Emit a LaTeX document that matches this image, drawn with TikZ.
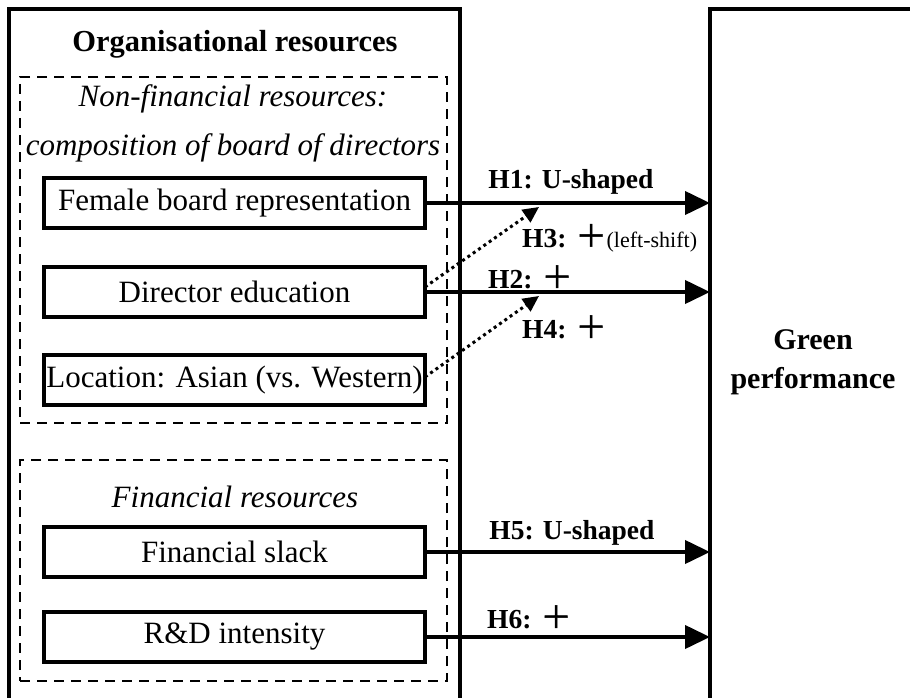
\documentclass[tikz,border=0pt]{standalone}
\usepackage{fontspec}
\setmainfont{Liberation Serif}
\newfontfamily\cjk[FakeBold=1.6]{Noto Sans CJK SC}
\usetikzlibrary{arrows.meta}
\newcommand{\plussign}{{\fontsize{31}{32}\selectfont\cjk\mdseries ＋}}
\begin{document}
\begin{tikzpicture}[x=1pt,y=-1pt,
  frame/.style={draw, line width=3.5pt, inner sep=0pt, outer sep=0pt},
  box/.style={draw, line width=3.5pt, minimum width=381pt, minimum height=50pt, inner sep=0pt, outer sep=0pt, font=\fontsize{31}{37}\selectfont},
  grp/.style={draw, line width=2.4pt, dash pattern=on 10pt off 7pt, inner sep=0pt, outer sep=0pt},
  txt/.style={inner sep=0pt, font=\fontsize{31}{37}\selectfont},
  lbl/.style={inner sep=0pt, font=\fontsize{27.5}{32}\selectfont\bfseries},
  solidarrow/.style={line width=4pt, -{Triangle[length=25pt,width=23pt]}},
  dotarrow/.style={line width=3pt, dash pattern=on 3pt off 3.5pt, -{Triangle[length=16pt,width=15pt]}},
]
\useasboundingbox (0,0) rectangle (910,698);
\clip (0,0) rectangle (910,698);

% outer frames (cut by the picture edge)
\node[frame, minimum width=451pt, minimum height=721pt, anchor=north west] (org) at (9,9) {};
\node[frame, minimum width=240pt, minimum height=721pt, anchor=north west] (gp) at (710,9) {};

% dashed groups
\node[grp, minimum width=427pt, minimum height=346pt, anchor=north west] (nfgrp) at (20,77) {};
\node[grp, minimum width=427pt, minimum height=221pt, anchor=north west] (fgrp) at (20,460) {};

% headings
\node[txt, font=\fontsize{30.5}{37}\selectfont\bfseries] (title) at (235,44) {Organisational resources};
\node[txt, font=\fontsize{31}{49}\selectfont\itshape, align=center] (nftitle) at (233,123) {Non-financial resources:\\composition of board of directors};
\node[txt, font=\fontsize{31}{37}\selectfont\itshape] (ftitle) at (235,497) {Financial resources};
\node[txt, font=\fontsize{30}{39}\selectfont\bfseries, align=center] (gptitle) at (813,362) {Green\\performance};

% resource boxes
\node[box] (fem) at (234.5,203) {Female board representation};
\node[box] (dir) at (234.5,292) {Director education};
\node[box] (loc) at (234.5,380) {Location: Asian (vs. Western)};
\node[box] (fs)  at (234.5,552) {Financial slack};
\node[box] (rd)  at (234.5,637) {R\&D intensity};

% solid arrows
\draw[solidarrow] (fem.east) -- (fem.east -| gp.west);
\draw[solidarrow] (dir.east) -- (dir.east -| gp.west);
\draw[solidarrow] (fs.east) -- (fs.east -| gp.west);
\draw[solidarrow] (rd.east) -- (rd.east -| gp.west);

% dotted moderation arrows
\coordinate (t3) at (539,207);
\coordinate (t4) at (539,296);
\draw[dotarrow] ([yshift=5pt]dir.east) -- (t3);
\draw[dotarrow] ([yshift=3pt]loc.east) -- (t4);

% labels
\node[lbl] (h1) at (571,182) {H1: U-shaped};
\node[lbl, anchor=west] (h3) at (522,238) {H3: \plussign{\fontsize{22}{26}\selectfont\mdseries(left-shift)}};
\node[lbl, anchor=west] (h2) at (488,277) {H2: \plussign};
\node[lbl, anchor=west] (h4) at (522,327) {H4: \plussign};
\node[lbl] (h5) at (572,533) {H5: U-shaped};
\node[lbl, anchor=west] (h6) at (487,617) {H6: \plussign};
\end{tikzpicture}
\end{document}
